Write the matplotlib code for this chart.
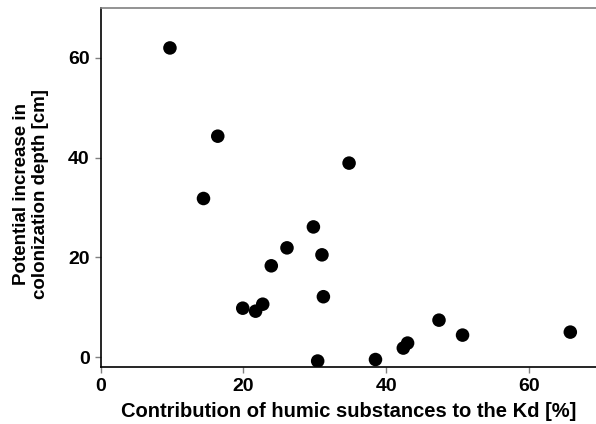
import matplotlib
matplotlib.use("Agg")
import matplotlib.pyplot as plt

humic_pct = [9.7, 16.4, 14.4, 34.8, 29.8, 26.1, 31.0, 23.9, 31.2, 22.7, 19.9, 21.7,
             30.4, 38.5, 42.4, 43.0, 47.4, 50.7, 65.8]
depth_increase = [62.0, 44.3, 31.8, 38.9, 26.1, 21.9, 20.5, 18.3, 12.1, 10.6, 9.8, 9.2,
                  -0.8, -0.5, 1.8, 2.8, 7.4, 4.4, 5.0]
x_ticks = [0, 20, 40, 60]
y_ticks = [0, 20, 40, 60]

plt.rcParams['font.family'] = ['Liberation Sans', 'DejaVu Sans']
plt.rcParams['font.weight'] = 'bold'

fig = plt.figure(figsize=(5.96, 4.24), dpi=100)
ax = fig.add_axes([0.169, 0.1344, 0.831, 0.8466])
ax.scatter(humic_pct, depth_increase, s=95, color='black', edgecolors='none', zorder=3)

ax.set_xlim(0, 69.4)
ax.set_ylim(-2, 70)
ax.set_xticks(x_ticks)
ax.set_yticks(y_ticks)
ax.tick_params(axis='both', direction='out', length=4, width=1, color='#808080',
               labelsize=14, pad=4)
for lab in ax.get_xticklabels() + ax.get_yticklabels():
    lab.set_fontweight('bold')

ax.spines['left'].set_color('black')
ax.spines['bottom'].set_color('black')
ax.spines['top'].set_color('#808080')
ax.spines['right'].set_visible(False)
for sp in ax.spines.values():
    sp.set_linewidth(1.2)

ax.set_xlabel('Contribution of humic substances to the Kd [%]', fontsize=14.5,
              fontweight='bold', labelpad=5)
ax.set_ylabel('Potential increase in\ncolonization depth [cm]', fontsize=13.5,
              fontweight='bold', linespacing=1.15)
ax.yaxis.set_label_coords(-0.104, 0.482)

fig.savefig('out.png', dpi=100)
